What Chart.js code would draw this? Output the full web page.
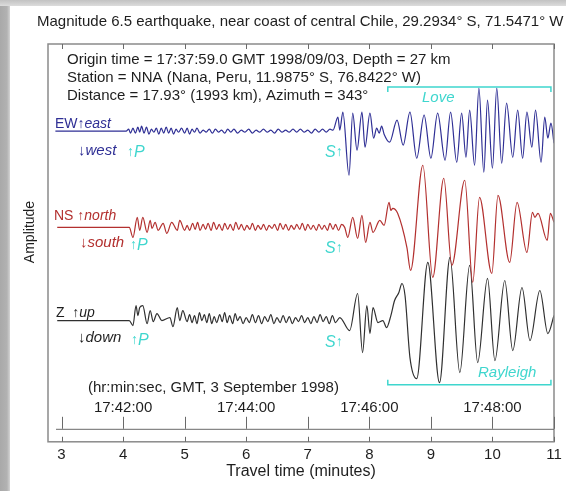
<!DOCTYPE html>
<html>
<head>
<meta charset="utf-8">
<title>NNA seismogram</title>
<script src="https://cdn.jsdelivr.net/npm/chart.js@4.4.0/dist/chart.umd.min.js"></script>
<style>
  html, body { margin: 0; padding: 0; }
  body { width: 566px; height: 491px; overflow: hidden; position: relative;
         background: linear-gradient(to right, #a9a9a9 0, #b2b2b2 7px, #d4d4d4 10px, #d4d4d4 100%); }
  #topband { position: absolute; left: 0; top: 0; width: 566px; height: 6px;
             background: linear-gradient(#c2c2c2, #dcdcdc); }
  #panel { position: absolute; left: 10px; top: 6px; width: 556px; height: 485px; background: #fff; }
</style>
</head>
<body>
<div id="topband"></div>
<div id="panel"><canvas id="myChart" width="556" height="485"></canvas></div>
<script>
// travel time in minutes after origin, amplitude in arbitrary counts
const ewTime = [2.90, 4.05, 4.09, 4.12, 4.16, 4.20, 4.24, 4.27, 4.30, 4.34, 4.38, 4.42, 4.46, 4.50, 4.54, 4.58,
  4.62, 4.66, 4.70, 4.74, 4.78, 4.82, 4.86, 4.90, 4.95, 5.00, 5.04, 5.08, 5.12, 5.16, 5.20, 5.25, 5.30, 5.35,
  5.40, 5.45, 5.50, 5.55, 5.60, 5.65, 5.70, 5.75, 5.80, 5.86, 5.92, 5.98, 6.04, 6.10, 6.16, 6.22, 6.28, 6.34,
  6.40, 6.46, 6.52, 6.58, 6.64, 6.70, 6.76, 6.82, 6.88, 6.94, 7.00, 7.06, 7.12, 7.18, 7.24, 7.30, 7.36, 7.41,
  7.49, 7.52, 7.57, 7.67, 7.73, 7.80, 7.88, 7.93, 8.01, 8.07, 8.12, 8.16, 8.20, 8.24, 8.33, 8.45, 8.55, 8.66,
  8.77, 8.89, 9.00, 9.11, 9.23, 9.32, 9.42, 9.50, 9.57, 9.63, 9.71, 9.78, 9.86, 9.92, 10.00, 10.07, 10.15,
  10.23, 10.33, 10.41, 10.49, 10.56, 10.64, 10.70, 10.79, 10.85, 10.90, 10.95, 11.00];
const ewAmp = [0, 0, 2, -2, 3, -2, 4, -1, 5, -2, 4, -3, 2, -1, 3, -3,
  3, -2, 4, -2, 3, -3, 2, -1, 3, -2, 3, -3, 2, -1, 3, -2, 1, -1,
  2, -2, 2, -1, 1, -2, 2, -1, 2, -2, 1, -1, 2, -2, 1, -1, 2, -1,
  1, -2, 2, -1, 1, -1, 2, -1, 2, -1, 1, -2, 2, -1, 2, -1, 2, 1,
  14, 1, 19, -44, 18, -19, 19, -16, 18, -7, 3, -2, 5, -3, -11, 11, -14, 19,
  -27, 16, -27, 18, -29, 19, -31, 18, -26, 21, -34, 43, -41, 31, -37, 43, -32,
  28, -26, 21, -27, 19, -16, 21, -31, 14, -7, 8, -12];

const nsTime = [2.93, 4.10, 4.16, 4.23, 4.27, 4.32, 4.39, 4.44, 4.47, 4.52, 4.57, 4.65, 4.71, 4.79, 4.88, 4.92,
  5.00, 5.04, 5.08, 5.13, 5.17, 5.21, 5.25, 5.30, 5.34, 5.38, 5.43, 5.47, 5.52, 5.56, 5.61, 5.65, 5.70, 5.74,
  5.79, 5.83, 5.88, 5.92, 5.97, 6.01, 6.06, 6.10, 6.15, 6.19, 6.24, 6.28, 6.33, 6.37, 6.42, 6.46, 6.51, 6.55,
  6.60, 6.64, 6.69, 6.73, 6.78, 6.82, 6.87, 6.91, 6.96, 7.00, 7.05, 7.09, 7.14, 7.18, 7.23, 7.27, 7.32, 7.36,
  7.41, 7.45, 7.50, 7.55, 7.60, 7.65, 7.73, 7.81, 7.88, 7.94, 8.01, 8.06, 8.17, 8.24, 8.32, 8.35, 8.38, 8.46,
  8.61, 8.67, 8.87, 9.03, 9.21, 9.34, 9.55, 9.68, 9.79, 9.99, 10.09, 10.28, 10.40, 10.56, 10.65, 10.69, 10.74,
  10.89, 10.94, 11.00];
const nsAmp = [0, 0, -10, 10, -3, 10, -5, 7, -1, 5, -3, 4, -6, 5, -3, 7,
  -3, 2, -3, 4, -2, 5, -3, 3, -2, 4, -3, 5, -2, 3, -3, 4, -2, 3,
  -3, 5, -2, 3, -3, 2, -2, 4, -3, 2, -2, 3, -3, 2, -1, 3, -3, 4,
  -2, 3, -3, 2, -2, 3, -2, 4, -3, 3, -2, 2, -3, 3, -2, 2, -3, 4,
  -2, 3, -3, 3, 0, -10, 10, -11, 12, -15, 5, -5, 7, 2, 25, 17, 19, 14,
  -20, -43, 62, -50, 49, -38, 47, -55, 30, -46, 32, -35, 25, -25, 15, 10, 14,
  -13, 14, 5];

const zTime = [2.93, 4.10, 4.16, 4.21, 4.24, 4.27, 4.32, 4.39, 4.44, 4.49, 4.55, 4.63, 4.76, 4.81, 4.88, 4.92,
  4.97, 5.04, 5.08, 5.12, 5.16, 5.20, 5.24, 5.28, 5.32, 5.36, 5.40, 5.44, 5.48, 5.52, 5.57, 5.61, 5.65, 5.69,
  5.73, 5.78, 5.82, 5.86, 5.90, 5.95, 6.00, 6.05, 6.10, 6.15, 6.20, 6.25, 6.30, 6.35, 6.40, 6.45, 6.50, 6.55,
  6.60, 6.65, 6.70, 6.75, 6.80, 6.85, 6.90, 6.95, 7.00, 7.05, 7.10, 7.15, 7.20, 7.25, 7.30, 7.35, 7.40, 7.45,
  7.52, 7.68, 7.81, 7.89, 7.96, 8.01, 8.06, 8.14, 8.22, 8.28, 8.35, 8.41, 8.48, 8.53, 8.58, 8.66, 8.77, 8.95,
  9.14, 9.31, 9.47, 9.63, 9.76, 9.92, 10.04, 10.20, 10.33, 10.48, 10.61, 10.77, 10.90, 11.00];
const zAmp = [0, 0, -5, 15, 5, 13, 15, -3, 10, -1, 7, 0, 3, -6, 13, 0,
  10, -1, 6, -2, 5, -3, 8, 0, 6, -2, 7, -3, 4, -2, 6, -1, 8, -2,
  5, -3, 7, 0, 4, -3, 3, -2, 6, -2, 5, -3, 4, -1, 6, -3, 3, -2,
  5, -2, 4, -3, 3, -1, 5, -2, 3, -3, 4, -2, 6, -1, 4, -3, 5, -2,
  3, -10, 27, -32, 15, -13, 13, -2, 0, -7, 5, 20, 28, 37, 25, -37, -58, 58,
  -62, 63, -52, 55, -42, 42, -40, 40, -30, 33, -20, 30, -13, 5];

const xTicks = [3, 4, 5, 6, 7, 8, 9, 10, 11];
const clockMinutes = [4, 6, 8, 10];
const clockLabels = ['17:42:00', '17:44:00', '17:46:00', '17:48:00'];
const pArrival = 4.16;
const sArrival = 7.52;
const loveWindow = [8.3, 10.95];
const rayleighWindow = [8.3, 10.95];

// vertical offset of each component's zero line, in the same counts
const ewBase = 310, nsBase = 214, zBase = 121;

const sans = '"Liberation Sans", Arial, sans-serif';
const BLUE = '#2f2f95', RED = '#b3302f', CYAN = '#3fd6ce', INK = '#1e1e1e';

function trace(times, amps, base) {
  return times.map((t, i) => ({ x: t, y: base + amps[i] }));
}

// draw a row of differently styled pieces of text, left to right
function textRuns(ctx, x, y, parts) {
  parts.forEach(([text, font, color]) => {
    ctx.font = font;
    ctx.fillStyle = color;
    ctx.fillText(text, x, y);
    x += ctx.measureText(text).width;
  });
  return x;
}

function seg(ctx, x1, y1, x2, y2) {
  ctx.beginPath(); ctx.moveTo(x1, y1); ctx.lineTo(x2, y2); ctx.stroke();
}

const framePlugin = {
  id: 'frame',
  afterDatasetsDraw(chart) {
    const { ctx, chartArea: a, scales: { x } } = chart;
    ctx.save();
    ctx.strokeStyle = '#8a8a8a';
    ctx.lineWidth = 1.5;
    ctx.strokeRect(a.left, a.top, a.right - a.left, a.bottom - a.top);

    // clock-time axis drawn inside the box
    const clockY = a.bottom - 13;
    ctx.strokeStyle = '#6a6a6a';
    ctx.lineWidth = 1;
    seg(ctx, x.getPixelForValue(2.91), clockY + 0.5, a.right, clockY + 0.5);
    xTicks.forEach(v => {
      const px = Math.round(x.getPixelForValue(v)) + 0.5;
      seg(ctx, px, a.top, px, a.top + 5);
      seg(ctx, px, a.bottom - 5, px, a.bottom);
      seg(ctx, px, clockY - 12, px, clockY);
    });
    ctx.textBaseline = 'middle';
    ctx.fillStyle = INK;
    ctx.font = '15px ' + sans;
    ctx.textAlign = 'center';
    clockMinutes.forEach((m, i) => ctx.fillText(clockLabels[i], x.getPixelForValue(m), a.bottom - 34));
    ctx.textAlign = 'left';
    ctx.fillText('(hr:min:sec, GMT, 3 September 1998)', a.left + 40, a.bottom - 54);
    ctx.restore();
  },
  afterDraw(chart) {
    const { ctx, chartArea: a, scales: { x, y } } = chart;
    ctx.save();
    ctx.textBaseline = 'middle';
    ctx.textAlign = 'left';
    const reg = '15px ' + sans;
    const lab = '14px ' + sans;
    const ital = 'italic 14px ' + sans;
    const ital15 = 'italic 15px ' + sans;
    const big = 'italic 16px ' + sans;

    ctx.fillStyle = INK;
    ctx.font = reg;
    ctx.fillText('Magnitude 6.5 earthquake, near coast of central Chile, 29.2934° S, 71.5471° W', 27, 16);
    ctx.fillText('Origin time = 17:37:59.0 GMT 1998/09/03, Depth = 27 km', a.left + 19, a.top + 16);
    ctx.fillText('Station = NNA (Nana, Peru, 11.9875° S, 76.8422° W)', a.left + 19, a.top + 34);
    ctx.fillText('Distance = 17.93° (1993 km), Azimuth = 343°', a.left + 19, a.top + 52);

    ctx.save();
    ctx.font = '14px ' + sans;
    ctx.translate(20, a.top + 188);
    ctx.rotate(-Math.PI / 2);
    ctx.textAlign = 'center';
    ctx.fillText('Amplitude', 0, 0);
    ctx.restore();

    // component names and polarity
    const px = x.getPixelForValue(pArrival);
    const sx = x.getPixelForValue(sArrival);
    const rows = [
      { base: ewBase, top: [['EW', lab, BLUE], ['↑', lab, BLUE], ['east', ital, BLUE]], topX: a.left + 7,
        bot: [['↓west', ital15, BLUE]], botX: a.left + 30, dy: 7, bdy: 20, pdx: -6, pdy: -21, sdy: -21 },
      { base: nsBase, top: [['NS ', lab, RED], ['↑', lab, RED], ['north', ital, RED]], topX: a.left + 6,
        bot: [['↓south', ital15, RED]], botX: a.left + 32, dy: 11, bdy: 15, pdx: -3, pdy: -18, sdy: -21 },
      { base: zBase, top: [['Z  ', lab, INK], ['↑', lab, INK], ['up', ital, INK]], topX: a.left + 8,
        bot: [['↓down', ital15, INK]], botX: a.left + 30, dy: 7, bdy: 17, pdx: -2, pdy: -20, sdy: -22 }
    ];
    rows.forEach(r => {
      const by = y.getPixelForValue(r.base);
      textRuns(ctx, r.topX, by - r.dy, r.top);
      textRuns(ctx, r.botX, by + r.bdy, r.bot);
      textRuns(ctx, px + r.pdx, by - r.pdy, [['↑', lab, CYAN], ['P', big, CYAN]]);
      ctx.font = big;
      const sw = ctx.measureText('S').width;
      textRuns(ctx, sx - sw - 4, by - r.sdy, [['S', big, CYAN], ['↑', lab, CYAN]]);
    });

    // surface wave windows
    ctx.strokeStyle = CYAN;
    ctx.lineWidth = 1.5;
    ctx.fillStyle = CYAN;
    ctx.font = ital15;
    ctx.textAlign = 'center';
    const l0 = x.getPixelForValue(loveWindow[0]), l1 = x.getPixelForValue(loveWindow[1]);
    const ly = a.top + 43;
    ctx.beginPath();
    ctx.moveTo(l0, ly + 5); ctx.lineTo(l0, ly); ctx.lineTo(l1, ly); ctx.lineTo(l1, ly + 5);
    ctx.stroke();
    ctx.fillText('Love', x.getPixelForValue(9.12), ly + 11);
    const r0 = x.getPixelForValue(rayleighWindow[0]), r1 = x.getPixelForValue(rayleighWindow[1]);
    const ry = a.bottom - 57;
    ctx.beginPath();
    ctx.moveTo(r0, ry - 5); ctx.lineTo(r0, ry); ctx.lineTo(r1, ry); ctx.lineTo(r1, ry - 5);
    ctx.stroke();
    ctx.fillText('Rayleigh', x.getPixelForValue(10.24), ry - 12);
    ctx.restore();
  }
};

const lineStyle = { pointRadius: 0, borderWidth: 1.2, cubicInterpolationMode: 'monotone', fill: false };

const config = {
  type: 'line',
  data: {
    datasets: [
      { label: 'EW', data: trace(ewTime, ewAmp, ewBase), borderColor: BLUE, ...lineStyle },
      { label: 'NS', data: trace(nsTime, nsAmp, nsBase), borderColor: RED, ...lineStyle },
      { label: 'Z', data: trace(zTime, zAmp, zBase), borderColor: '#303030', ...lineStyle }
    ]
  },
  options: {
    responsive: false,
    animation: false,
    devicePixelRatio: 1,
    layout: { padding: { left: 38, top: 38, right: 12, bottom: 12 } },
    plugins: { legend: { display: false }, tooltip: { enabled: false } },
    scales: {
      x: {
        type: 'linear',
        min: 2.78,
        max: 11,
        grid: { display: false, drawTicks: false },
        border: { display: false },
        afterBuildTicks: axis => { axis.ticks = xTicks.map(v => ({ value: v })); },
        ticks: { font: { size: 15, family: sans }, color: INK, padding: 4, autoSkip: false, maxRotation: 0 },
        title: { display: true, text: 'Travel time (minutes)', font: { size: 16, family: sans }, color: INK,
                 padding: { top: -6, bottom: -2 } }
      },
      y: { display: false, min: 0, max: 397 }
    }
  },
  plugins: [framePlugin]
};

const ctx = document.getElementById('myChart');
const myChart = new Chart(ctx, config);
</script>
</body>
</html>
